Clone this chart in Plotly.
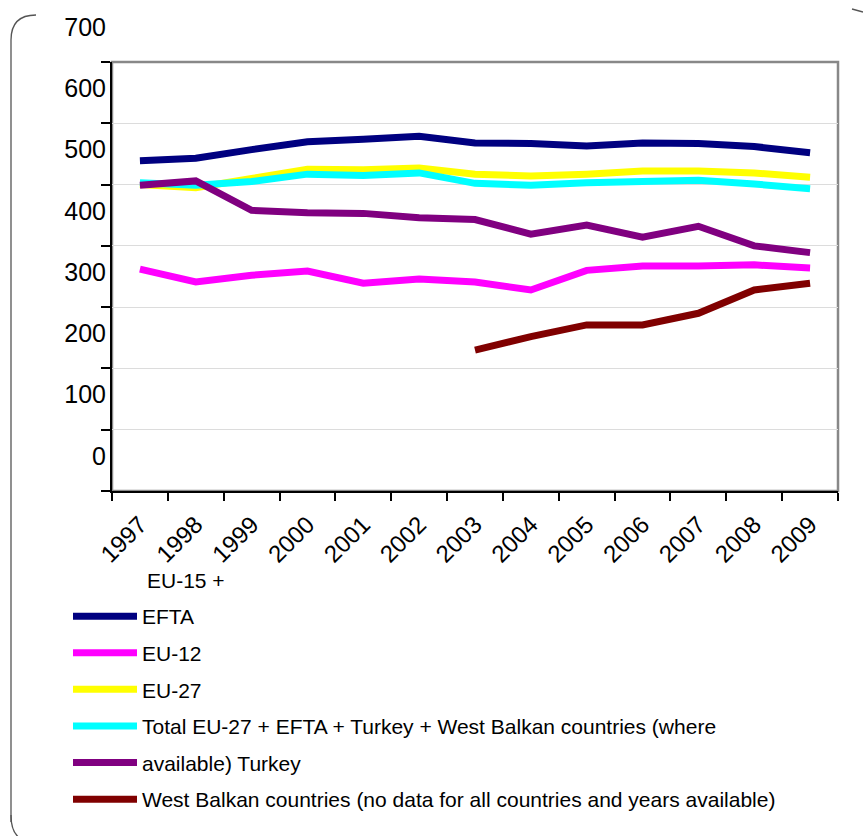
import plotly.graph_objects as go

# Category axis
years = ["1997", "1998", "1999", "2000", "2001", "2002", "2003",
         "2004", "2005", "2006", "2007", "2008", "2009"]

# Series values
eu15_efta = [482, 486, 500, 513, 517, 522, 511, 510, 506, 511, 510, 505, 495]
eu12 = [305, 284, 295, 302, 282, 289, 284, 271, 303, 310, 310, 312, 307]
eu27 = [443, 438, 453, 468, 467, 470, 460, 457, 460, 465, 465, 462, 455]
total_all = [446, 442, 448, 460, 458, 462, 445, 442, 446, 447, 450, 444, 436]
turkey = [442, 449, 401, 397, 396, 389, 386, 362, 377, 357, 375, 343, 332]
west_balkan = [None, None, None, None, None, None, 173, 195, 214, 214, 233, 271, 282]

# Legend rows as they are printed under the chart
legend_names = [
    "EFTA",
    "EU-12",
    "EU-27",
    "Total EU-27 + EFTA + Turkey + West Balkan countries (where",
    "available) Turkey",
    "West Balkan countries (no data for all countries and years available)",
]
legend_heading = "EU-15 +"

# Value-axis labels
y_tick_labels = ["0", "100", "200", "300", "400", "500", "600", "700"]

series = [eu15_efta, eu12, eu27, total_all, turkey, west_balkan]
colors = ["#000080", "#FF00FF", "#FFFF00", "#00FFFF", "#800080", "#800000"]

W, H = 863, 836
L, R, T, B = 112, 25, 62, 345
plot_w = W - L - R
plot_h = H - T - B

FONT = "Liberation Sans, Arial, sans-serif"

# y range: grid/tick marks sit 57 units below each printed label value
y_lo, y_hi = -57, 643
tick_vals = [y_lo + 100 * k for k in range(len(y_tick_labels))]


def px_x(p):
    return (p - L) / plot_w


def px_y(p):
    return (H - B - p) / plot_h


fig = go.Figure()
for i, (vals, col, name) in enumerate(zip(series, colors, legend_names)):
    fig.add_trace(go.Scatter(
        x=years, y=vals, mode="lines", name=name,
        line=dict(color=col, width=7),
        legendgroup=f"g{i}",
        connectgaps=False,
    ))

# Rounded frame fragments around the chart
frame_path = (
    f"M {px_x(11)},{px_y(822)} L {px_x(11)},{px_y(40)} "
    f"Q {px_x(11)},{px_y(15)} {px_x(36)},{px_y(15)}"
)
frame_bottom = (
    f"M {px_x(11)},{px_y(815)} Q {px_x(11)},{px_y(836)} {px_x(24)},{px_y(840)}"
)
frame_tr = f"M {px_x(852)},{px_y(9)} L {px_x(863)},{px_y(12)}"

shapes = [
    dict(type="rect", xref="paper", yref="paper", x0=0, x1=1, y0=0, y1=1,
         line=dict(color="#888888", width=2.5), layer="below"),
    dict(type="path", xref="paper", yref="paper", path=frame_path,
         line=dict(color="#555555", width=1.3)),
    dict(type="path", xref="paper", yref="paper", path=frame_bottom,
         line=dict(color="#555555", width=1.3)),
    dict(type="path", xref="paper", yref="paper", path=frame_tr,
         line=dict(color="#555555", width=1.3)),
]

fig.update_layout(
    width=W, height=H,
    margin=dict(l=L, r=R, t=T, b=B),
    paper_bgcolor="white", plot_bgcolor="white",
    font=dict(family=FONT, color="black"),
    showlegend=True,
    legend=dict(
        x=px_x(68), y=px_y(596), xanchor="left", yanchor="top",
        font=dict(size=21, family=FONT, color="black"),
        itemwidth=64, traceorder="grouped", tracegroupgap=6.3,
        bgcolor="rgba(0,0,0,0)", borderwidth=0,
    ),
    xaxis=dict(
        type="category", tickson="boundaries", range=[-0.5, 12.5],
        showline=True, linecolor="black", linewidth=2,
        ticks="outside", ticklen=8, tickcolor="black", tickwidth=1.5,
        tickangle=-45, tickfont=dict(size=24, family=FONT, color="black"),
        ticklabelstandoff=8,
        showgrid=False, zeroline=False,
    ),
    yaxis=dict(
        range=[y_lo, y_hi], tickvals=tick_vals, ticktext=y_tick_labels,
        ticklabelshift=-35, ticklabelstandoff=-10,
        showline=True, linecolor="black", linewidth=2,
        ticks="outside", ticklen=9, tickcolor="black", tickwidth=1.5,
        tickfont=dict(size=25, family=FONT, color="black"),
        showgrid=True, gridcolor="#dcdcdc", gridwidth=1,
        zeroline=False,
    ),
    shapes=shapes,
    annotations=[
        dict(text=legend_heading, xref="paper", yref="paper",
             x=px_x(145), y=px_y(580), xanchor="left", yanchor="middle",
             showarrow=False, font=dict(size=21, family=FONT, color="black")),
    ],
)

fig.write_html("out.html")
